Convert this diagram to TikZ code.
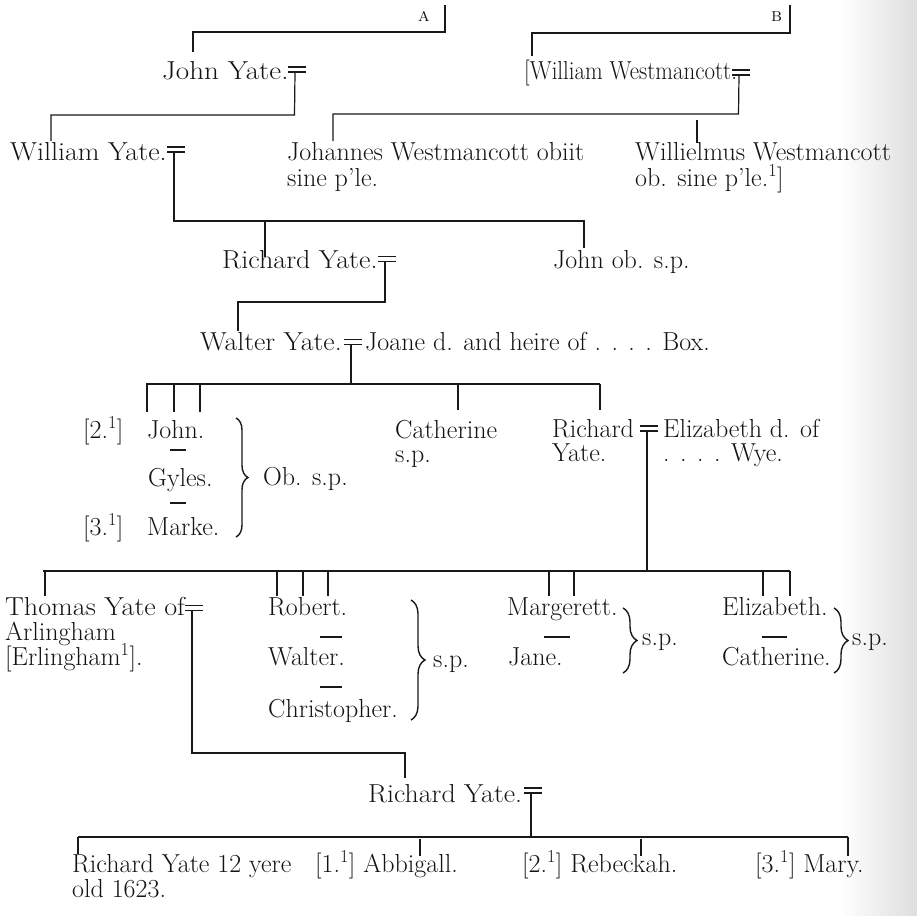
\documentclass[tikz,border=0pt]{standalone}
\usepackage{graphicx}
\usetikzlibrary{decorations.pathreplacing}
\newcommand{\sxw}[2]{\scalebox{#1}[1]{#2}}
\begin{document}
\begin{tikzpicture}[x=1pt,y=-1pt,
  ln/.style={line width=1.2pt,black!90},
  dsh/.style={line width=1.9pt,black!90},
  txt/.style={anchor=base west,inner sep=0pt,font=\fontsize{26}{26}\selectfont,text=black!92},
  lbl/.style={anchor=base west,inner sep=0pt,font=\fontsize{19}{19}\selectfont\scshape,text=black!92},
  brc/.style={decorate,decoration={brace,amplitude=#1},line width=1.4pt,black!90},
  marr/.pic={\draw[line width=1.1pt,black!90] (-9,-2.5)--(9,-2.5) (-9,2.5)--(9,2.5);
             \coordinate (-d) at (-2,2.5);}
]
\useasboundingbox (0,0) rectangle (917,915);
\fill[white] (0,0) rectangle (917,915);
\shade[left color=white,right color=black!13] (840,0) rectangle (917,915);

% ---------- top: A and B ----------
\node[lbl] (la) at (418,22) {a};
\node[lbl] (lb) at (771,22) {b};
\coordinate (a0) at (445,5);
\coordinate (b0) at (790,5);

\node[txt] (johnyate) at (162,80) {\sxw{1.12}{John Yate.}};
\pic (mjohn) at (297,69.5) {marr};
\node[txt] (wwest) at (524,80) {\sxw{0.88}{[William Westmancott.}};
\pic (mwest) at (741,72.5) {marr};

\draw[ln] (a0) -- (445,32) -- (193,32) -- (193,52);
\draw[ln] (b0) -- (790,33) -- (532,33) -- (532,56);

% ---------- generation 2 ----------
\node[txt] (williamyate) at (10,160) {\sxw{1.08}{William Yate.}};
\pic (mwill) at (176,149.5) {marr};
\node[txt] (johannes) at (287,160) {Johannes Westmancott obiit};
\node[txt] (johannes2) at (287,186) {sine p'le.};
\node[txt] (willielmus) at (635,160) {Willielmus Westmancott};
\node[txt] (willielmus2) at (635,186) {ob. sine p'le.\textsuperscript{1}]};

\draw[ln] (mjohn-d) -- (294.5,115) -- (51,115) -- (51,141);
\draw[ln] (mwest-d) -- (738.5,114) -- (333,114) -- (333,141);
\draw[ln] (697,120) -- (697,143);

% ---------- generation 3 ----------
\node[txt] (richard1) at (222,268) {\sxw{1.08}{Richard Yate.}};
\pic (mrich1) at (387,259) {marr};
\node[txt] (johnob) at (553,268) {John ob. s.p.};

\draw[ln] (mwill-d) -- (174,221) -- (584,221) -- (584,248);
\draw[ln] (265,221) -- (265,257);

% ---------- generation 4 ----------
\node[txt] (walter) at (200,350) {\sxw{1.07}{Walter Yate.}};
\pic (mwalt) at (353,342) {marr};
\node[txt] (joane) at (365,350) {Joane d. and heire of . . . . Box.};

\draw[ln] (mrich1-d) -- (385,302) -- (238,302) -- (238,331);

% ---------- generation 5 ----------
\draw[ln] (mwalt-d) -- (351,384);
\draw[ln] (146,384) -- (600,384);
\draw[ln] (147,384) -- (147,412);
\draw[ln] (174,384) -- (174,412);
\draw[ln] (200,384) -- (200,412);
\draw[ln] (458,384) -- (458,410);
\draw[ln] (600,384) -- (600,410);

\node[txt] (n2) at (83,438) {[2.\textsuperscript{1}]};
\node[txt] (john5) at (147,438) {John.};
\draw[dsh] (170,450) -- (186,450);
\node[txt] (gyles) at (148,486) {Gyles.};
\draw[dsh] (170,503) -- (186,503);
\node[txt] (n3) at (83,535) {[3.\textsuperscript{1}]};
\node[txt] (marke) at (147,535) {Marke.};
\draw[brc=12] (236,418) -- (236,537);
\node[txt] (obsp) at (263,485) {Ob. s.p.};

\node[txt] (cath5) at (395,438) {Catherine};
\node[txt] (cath5b) at (395,462) {s.p.};

\node[txt] (richard2) at (552,437) {Richard};
\node[txt] (richard2b) at (552,461) {Yate.};
\pic (mrich2) at (649,428.5) {marr};
\node[txt] (eliz) at (663,437) {Elizabeth d. of};
\node[txt] (elizb) at (663,461) {. . . . Wye.};

% ---------- generation 6 ----------
\draw[ln] (mrich2-d) -- (647,571);
\draw[ln] (43,571) -- (790,571);
\foreach \x in {45,277,303,328,549,574,763,790} \draw[ln] (\x,571) -- (\x,596);

\node[txt] (thomas) at (5,615) {\sxw{1.08}{Thomas Yate of}};
\pic (mthom) at (194,608) {marr};
\node[txt] (thomas2) at (5,640) {Arlingham};
\node[txt] (thomas3) at (5,665) {[Erlingham\textsuperscript{1}].};

\node[txt] (robert) at (268,615) {Robert.};
\draw[dsh] (320,637) -- (342,637);
\node[txt] (walter6) at (268,665) {Walter.};
\draw[dsh] (320,687) -- (342,687);
\node[txt] (christ) at (268,717) {Christopher.};
\draw[brc=14] (411,600) -- (411,720);
\node[txt] (sp1) at (433,667) {s.p.};

\node[txt] (marg) at (507,615) {Margerett.};
\draw[dsh] (544,637) -- (570,637);
\node[txt] (jane) at (508,665) {Jane.};
\draw[brc=14] (623,608) -- (623,673);
\node[txt] (sp2) at (642,645) {s.p.};

\node[txt] (eliz6) at (722,615) {Elizabeth.};
\draw[dsh] (762,637) -- (787,637);
\node[txt] (cath6) at (722,665) {Catherine.};
\draw[brc=14] (834,608) -- (834,673);
\node[txt] (sp3) at (852,645) {s.p.};

% ---------- generation 7 ----------
\draw[ln] (mthom-d) -- (192,753) -- (405,753) -- (405,778);
\node[txt] (richard3) at (368,802) {\sxw{1.07}{Richard Yate.}};
\pic (mrich3) at (533,790.5) {marr};

% ---------- generation 8 ----------
\draw[ln] (mrich3-d) -- (531,837);
\draw[ln] (78,837) -- (848,837);
\draw[ln] (78,837) -- (78,854);
\draw[ln] (420,839) -- (420,856);
\draw[ln] (641,839) -- (641,856);
\draw[ln] (848,837) -- (848,856);

\node[txt] (rich8) at (72,872) {Richard Yate 12 yere};
\node[txt] (rich8b) at (72,897) {old 1623.};
\node[txt] (abbi) at (315,872) {[1.\textsuperscript{1}] Abbigall.};
\node[txt] (rebe) at (522,872) {[2.\textsuperscript{1}] Rebeckah.};
\node[txt] (mary) at (755,872) {[3.\textsuperscript{1}] Mary.};
\end{tikzpicture}
\end{document}
